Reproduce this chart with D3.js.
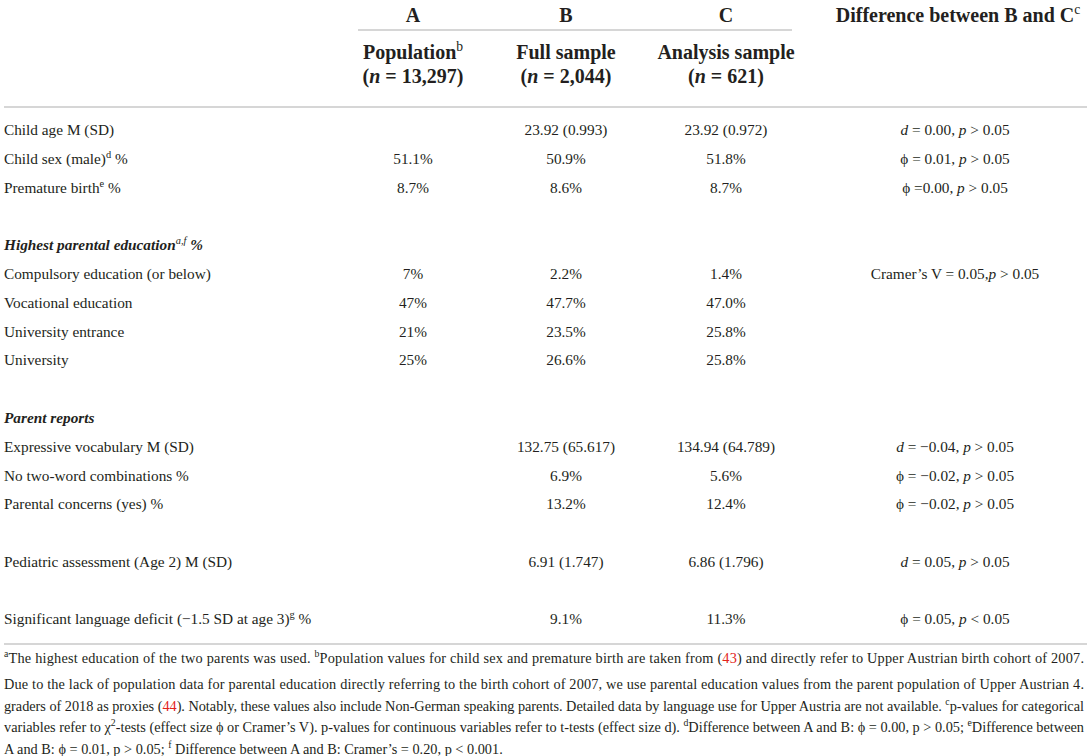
<!DOCTYPE html>
<html>
<head>
<meta charset="utf-8">
<script src="https://cdn.jsdelivr.net/npm/d3@7"></script>
<style>
  html, body { margin: 0; padding: 0; background: #ffffff; }
  svg { display: block; }
  text { font-family: "Liberation Serif", "Times New Roman", serif; fill: #231f20; }
</style>
</head>
<body>
<svg id="chart" width="1091" height="756"></svg>
<script>
// ---- data ----
const columnLetters = ["A", "B", "C"];
const columnTitles = ["Population^b^", "Full sample", "Analysis sample"];
const columnNs = ["(*n* = 13,297)", "(*n* = 2,044)", "(*n* = 621)"];
const diffTitle = "Difference between B and C^c^";

const rowLabels = [
  "Child age M (SD)",
  "Child sex (male)^d^ %",
  "Premature birth^e^ %",
  null,
  "Highest parental education^a,f^  %",
  "Compulsory education (or below)",
  "Vocational education",
  "University entrance",
  "University",
  null,
  "Parent reports",
  "Expressive vocabulary M (SD)",
  "No two-word combinations %",
  "Parental concerns (yes) %",
  null,
  "Pediatric assessment (Age 2) M (SD)",
  null,
  "Significant language deficit (−1.5 SD at age 3)^g^ %"
];
const sectionRows = [4, 10];

const popValues = ["", "51.1%", "8.7%", "", "", "7%", "47%", "21%", "25%", "", "", "", "", "", "", "", "", ""];
const fullValues = ["23.92 (0.993)", "50.9%", "8.6%", "", "", "2.2%", "47.7%", "23.5%", "26.6%", "", "", "132.75 (65.617)", "6.9%", "13.2%", "", "6.91 (1.747)", "", "9.1%"];
const analysisValues = ["23.92 (0.972)", "51.8%", "8.7%", "", "", "1.4%", "47.0%", "25.8%", "25.8%", "", "", "134.94 (64.789)", "5.6%", "12.4%", "", "6.86 (1.796)", "", "11.3%"];
const diffValues = [
  "*d* = 0.00, *p* > 0.05",
  "ϕ = 0.01, *p* > 0.05",
  "ϕ =0.00, *p* > 0.05",
  "", "",
  "Cramer’s V = 0.05,*p* > 0.05",
  "", "", "", "", "",
  "*d* = −0.04, *p* > 0.05",
  "ϕ = −0.02, *p* > 0.05",
  "ϕ = −0.02, *p* > 0.05",
  "",
  "*d* = 0.05, *p* > 0.05",
  "",
  "ϕ = 0.05, *p* < 0.05"
];

const footnoteLines = [
  "^a^The highest education of the two parents was used. ^b^Population values for child sex and premature birth are taken from ({43}) and directly refer to Upper Austrian birth cohort of 2007.",
  "Due to the lack of population data for parental education directly referring to the birth cohort of 2007, we use parental education values from the parent population of Upper Austrian 4.",
  "graders of 2018 as proxies ({44}). Notably, these values also include Non-German speaking parents. Detailed data by language use for Upper Austria are not available. ^c^p-values for categorical",
  "variables refer to χ^2^-tests (effect size ϕ or Cramer’s V). p-values for continuous variables refer to t-tests (effect size d). ^d^Difference between A and B: ϕ = 0.00, p > 0.05; ^e^Difference between",
  "A and B: ϕ = 0.01, p > 0.05; ^f^ Difference between A and B: Cramer’s = 0.20, p < 0.001."
];

// ---- layout ----
const svg = d3.select("#chart");
const W = 1091;
const colX = d3.scaleOrdinal().domain(["A", "B", "C", "D"]).range([413, 566, 726, 955]);
const rowY = d3.scaleLinear().domain([0, rowLabels.length - 1]).range([130, 619]);
const footY = d3.scaleLinear().domain([0, footnoteLines.length - 1]).range([663, 749]);
const ruleColor = "#c8c8c8";

// rich text: *italic*, ^superscript^, {red}
function rich(textSel, str, size) {
  const parts = str.split(/(\*[^*]+\*|\^[^^]+\^|\{[^}]+\})/).filter(s => s.length);
  let raised = false;
  parts.forEach(p => {
    const t = textSel.append("tspan");
    let content = p;
    if (p.startsWith("^")) {
      content = p.slice(1, -1);
      t.attr("font-size", size * 0.68).attr("dy", raised ? 0 : -size * 0.4).attr("font-weight", "normal");
      raised = true;
    } else {
      if (raised) { t.attr("dy", size * 0.4); raised = false; }
      if (p.startsWith("*")) { content = p.slice(1, -1); t.attr("font-style", "italic"); }
      else if (p.startsWith("{")) { content = p.slice(1, -1); t.style("fill", "#e2231a"); }
    }
    t.text(content);
  });
}

// header
const hdr = svg.append("g");
const hSize = 20;
columnLetters.forEach((c, i) => {
  hdr.append("text").attr("x", colX(c)).attr("y", 15).attr("dy", "0.35em")
    .attr("text-anchor", "middle").attr("font-size", hSize).attr("font-weight", "bold").text(c);
  const t1 = hdr.append("text").attr("x", colX(c)).attr("y", 52).attr("dy", "0.35em")
    .attr("text-anchor", "middle").attr("font-size", hSize).attr("font-weight", "bold");
  rich(t1, columnTitles[i], hSize);
  const t2 = hdr.append("text").attr("x", colX(c)).attr("y", 76).attr("dy", "0.35em")
    .attr("text-anchor", "middle").attr("font-size", hSize).attr("font-weight", "bold");
  rich(t2, columnNs[i], hSize);
});
const dt = hdr.append("text").attr("x", 958).attr("y", 15).attr("dy", "0.35em")
  .attr("text-anchor", "middle").attr("font-size", hSize).attr("font-weight", "bold");
rich(dt, diffTitle, hSize);

hdr.append("line").attr("x1", 358).attr("x2", 792).attr("y1", 30).attr("y2", 30)
  .attr("stroke", ruleColor).attr("stroke-width", 1.5);
svg.append("line").attr("x1", 4).attr("x2", W - 4).attr("y1", 107).attr("y2", 107)
  .attr("stroke", ruleColor).attr("stroke-width", 1.5);
svg.append("line").attr("x1", 4).attr("x2", W - 4).attr("y1", 644).attr("y2", 644)
  .attr("stroke", ruleColor).attr("stroke-width", 1.5);

// body rows
const body = svg.append("g");
const bodySize = 15.3;
rowLabels.forEach((lab, i) => {
  if (!lab) return;
  const t = body.append("text").attr("x", 4).attr("y", rowY(i)).attr("dy", "0.35em")
    .attr("font-size", bodySize);
  if (sectionRows.includes(i)) t.attr("font-weight", "bold").attr("font-style", "italic");
  rich(t, lab, bodySize);
  const cells = [["A", popValues[i]], ["B", fullValues[i]], ["C", analysisValues[i]], ["D", diffValues[i]]];
  cells.forEach(([c, v]) => {
    if (!v) return;
    const ct = body.append("text").attr("x", colX(c)).attr("y", rowY(i)).attr("dy", "0.35em")
      .attr("text-anchor", "middle").attr("font-size", bodySize);
    rich(ct, v, bodySize);
  });
});

// footnotes
const foot = svg.append("g");
const footSize = 14.3;
footnoteLines.forEach((line, i) => {
  const t = foot.append("text").attr("x", 4).attr("y", footY(i)).attr("dy", "0.33em")
    .attr("font-size", footSize);
  rich(t, line, footSize);
  if (i < footnoteLines.length - 1) {
    t.attr("textLength", 1080).attr("lengthAdjust", "spacing");
  }
});
</script>
</body>
</html>
